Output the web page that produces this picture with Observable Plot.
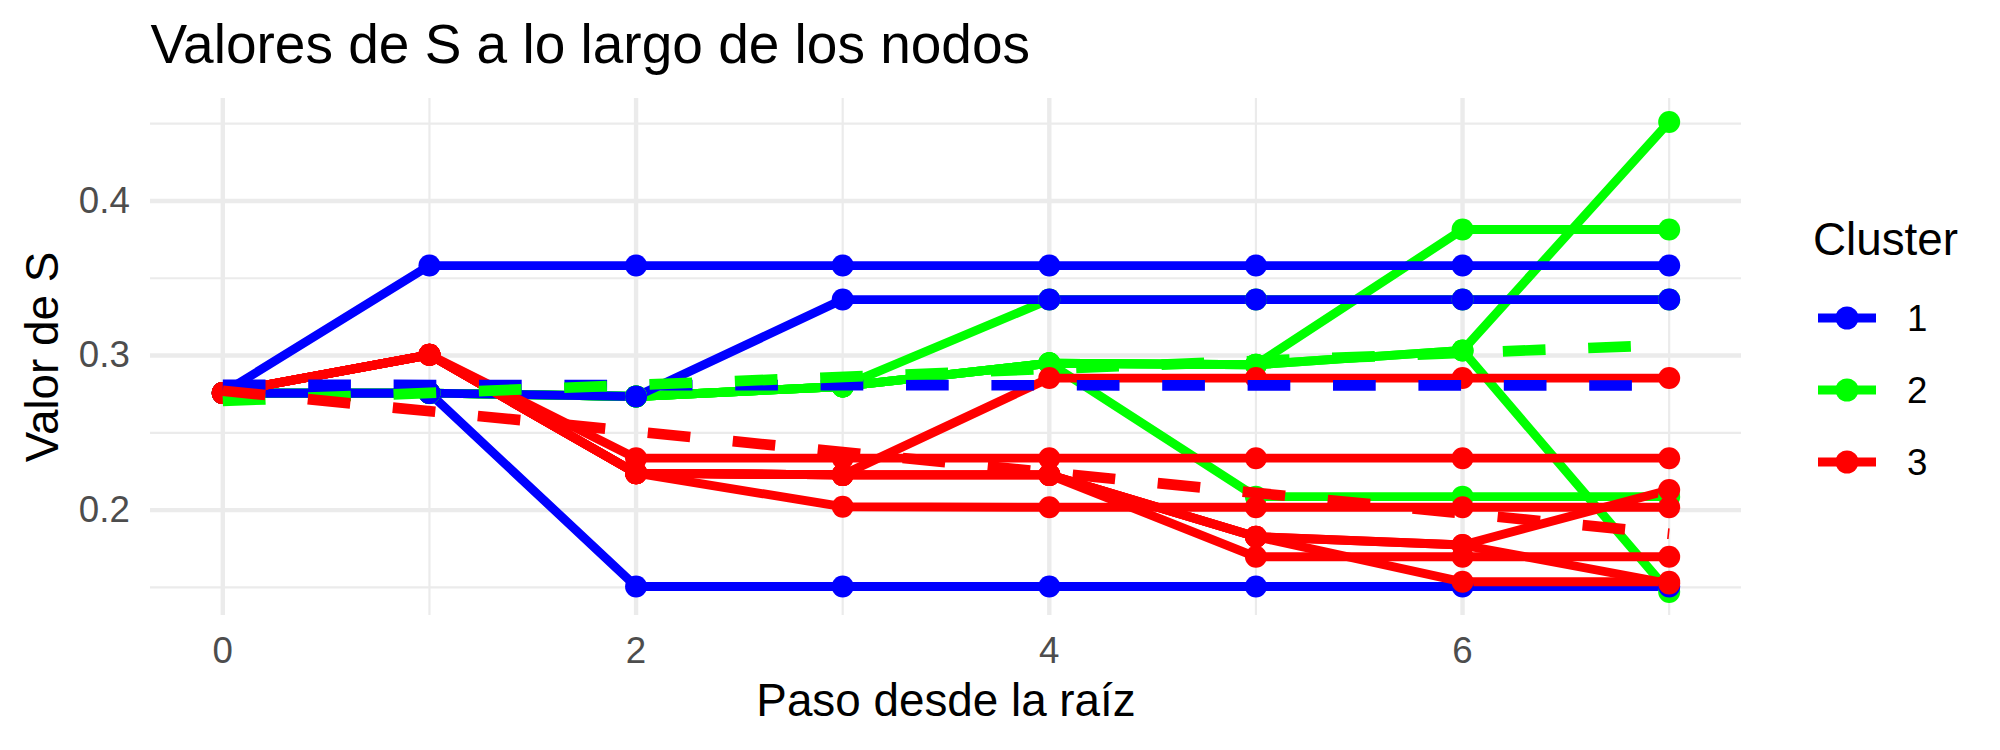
<!DOCTYPE html>
<html>
<head>
<meta charset="utf-8">
<script src="https://cdn.jsdelivr.net/npm/d3@7"></script>
<script src="https://cdn.jsdelivr.net/npm/@observablehq/plot@0.6"></script>
<style>
  body { margin: 0; background: #ffffff; font-family: "Liberation Sans", Arial, sans-serif; }
  #wrap { position: relative; width: 2000px; height: 750px; overflow: hidden; background: #fff; }
  #chart { position: absolute; left: 0; top: 0; }
  #legend { position: absolute; left: 1790px; top: 200px; }
</style>
</head>
<body>
<div id="wrap"><div id="chart"></div><div id="legend"></div></div>
<script>
// ---- data ----
const steps = [0, 1, 2, 3, 4, 5, 6, 7];
const clusters = ["1", "2", "3"];
const clusterColors = ["#0000FF", "#00FF00", "#FF0000"];

const cluster1Paths = [
  [0.2757, 0.3582, 0.3582, 0.3582, 0.3582, 0.3582, 0.3582, 0.3582],
  [0.2757, 0.2757, 0.2735, 0.3362, 0.3362, 0.3362, 0.3362, 0.3362],
  [0.2757, 0.2757, 0.1506, 0.1506, 0.1506, 0.1506, 0.1506, 0.1506]
];
const cluster2Paths = [
  [0.2757, 0.2757, 0.2735, 0.2800, 0.3362, 0.3362, 0.3362, 0.3362],
  [0.2757, 0.2757, 0.2735, 0.2800, 0.2950, 0.2940, 0.3815, 0.3815],
  [0.2757, 0.2757, 0.2735, 0.2800, 0.2950, 0.2940, 0.3033, 0.4511],
  [0.2757, 0.2757, 0.2735, 0.2800, 0.2950, 0.2940, 0.3033, 0.1470],
  [0.2757, 0.2757, 0.2735, 0.2800, 0.2950, 0.2087, 0.2087, 0.2087]
];
const cluster3Paths = [
  [0.2757, 0.3005, 0.2336, 0.2336, 0.2336, 0.2336, 0.2336, 0.2336],
  [0.2757, 0.3005, 0.2239, 0.2228, 0.2854, 0.2854, 0.2854, 0.2854],
  [0.2757, 0.3005, 0.2239, 0.2228, 0.2228, 0.1698, 0.1698, 0.1698],
  [0.2757, 0.3005, 0.2239, 0.2228, 0.2228, 0.1828, 0.1774, 0.2130],
  [0.2757, 0.3005, 0.2239, 0.2228, 0.2228, 0.1828, 0.1774, 0.1525],
  [0.2757, 0.3005, 0.2239, 0.2228, 0.2228, 0.1828, 0.1536, 0.1536],
  [0.2757, 0.3005, 0.2239, 0.2022, 0.2018, 0.2018, 0.2018, 0.2018]
];
// dashed trend lines (value at first and last step), per cluster
const trendStart = [0.2810, 0.2706, 0.2772];
const trendEnd   = [0.2806, 0.3069, 0.1847];

const xTicks = [0, 2, 4, 6];
const xMinor = [1, 3, 5, 7];
const yTicks = [0.2, 0.3, 0.4];
const yMinor = [0.15, 0.25, 0.35, 0.45];

const titleText = "Valores de S a lo largo de los nodos";
const xLabel = "Paso desde la raíz";
const yLabel = "Valor de S";
const legendTitle = "Cluster";

// ---- build tables ----
const pathsByCluster = {"1": cluster1Paths, "2": cluster2Paths, "3": cluster3Paths};
const drawOrder = ["2", "1", "3"];
const rows = [];
for (const c of drawOrder) {
  pathsByCluster[c].forEach((p, i) => {
    p.forEach((s, k) => rows.push({cluster: c, path: c + "-" + i, step: steps[k], s}));
  });
}
const trendRows = [];
clusters.forEach((c, i) => {
  trendRows.push({cluster: c, step: steps[0], s: trendStart[i]});
  trendRows.push({cluster: c, step: steps[steps.length - 1], s: trendEnd[i]});
});

const allS = rows.map(d => d.s);
const sMin = d3.min(allS), sMax = d3.max(allS);
const sPad = (sMax - sMin) * 0.05;
const xMin = d3.min(steps), xMax = d3.max(steps);
const xPad = (xMax - xMin) * 0.05;

const font = "Liberation Sans, Arial, sans-serif";
const grid = {stroke: "#EBEBEB", strokeOpacity: 1};

const chart = Plot.plot({
  width: 2000,
  height: 750,
  marginLeft: 150,
  marginRight: 259,
  marginTop: 98,
  marginBottom: 135,
  style: {fontFamily: font, background: "white", overflow: "visible"},
  x: {domain: [xMin - xPad, xMax + xPad]},
  y: {domain: [sMin - sPad, sMax + sPad]},
  color: {type: "ordinal", domain: clusters, range: clusterColors},
  marks: [
    Plot.gridX(xMinor, {...grid, strokeWidth: 2.2}),
    Plot.gridY(yMinor, {...grid, strokeWidth: 2.2}),
    Plot.gridX(xTicks, {...grid, strokeWidth: 4.4}),
    Plot.gridY(yTicks, {...grid, strokeWidth: 4.4}),
    Plot.axisX(xTicks, {tickSize: 0, tickPadding: 21, fontSize: 36.7, fill: "#4D4D4D", label: null, tickFormat: d => String(d)}),
    Plot.axisY(yTicks, {tickSize: 0, tickPadding: 20.7, fontSize: 36.7, fill: "#4D4D4D", label: null, tickFormat: d3.format(".1f")}),
    Plot.text([xLabel], {text: d => d, frameAnchor: "bottom", dy: 100, lineAnchor: "bottom", fontSize: 45.8, fill: "black"}),
    Plot.text([yLabel], {text: d => d, frameAnchor: "left", textAnchor: "middle", rotate: -90, dx: -93, lineAnchor: "bottom", fontSize: 45.8, fill: "black"}),
    Plot.text([titleText], {text: d => d, frameAnchor: "top-left", textAnchor: "start", lineAnchor: "bottom", dy: -36, fontSize: 55, fill: "black"}),
    Plot.line(rows, {x: "step", y: "s", z: "path", stroke: "cluster", strokeWidth: 8.9, strokeLinecap: "butt", strokeLinejoin: "round"}),
    Plot.dot(rows, {x: "step", y: "s", fill: "cluster", r: 11}),
    Plot.line(trendRows, {x: "step", y: "s", z: "cluster", stroke: "cluster", strokeWidth: 10.7, strokeDasharray: "42.7,42.7", strokeLinecap: "butt"})
  ]
});
document.getElementById("chart").append(chart);

// ---- legend ----
const lg = d3.select("#legend").append("svg")
  .attr("width", 210).attr("height", 300)
  .style("font-family", font).style("overflow", "visible");
lg.append("text").attr("x", 23).attr("y", 55)
  .attr("font-size", 45.8).attr("fill", "black").text(legendTitle);
clusters.forEach((c, i) => {
  const g = lg.append("g").attr("transform", `translate(0, ${118 + i * 72})`);
  g.append("line").attr("x1", 28).attr("x2", 86).attr("y1", 0).attr("y2", 0)
    .attr("stroke", clusterColors[i]).attr("stroke-width", 8.9);
  g.append("circle").attr("cx", 57).attr("cy", 0).attr("r", 11.5).attr("fill", clusterColors[i]);
  g.append("text").attr("x", 117).attr("y", 0).attr("dy", "0.35em")
    .attr("font-size", 36.7).attr("fill", "black").text(c);
});
</script>
</body>
</html>
